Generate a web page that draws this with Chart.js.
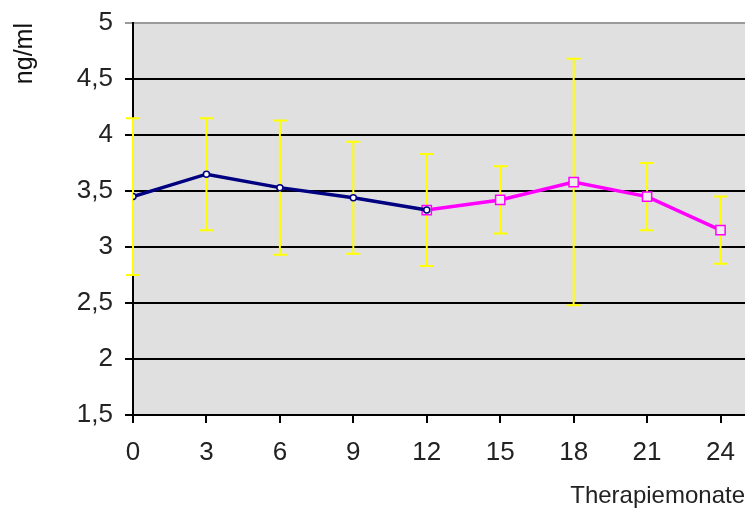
<!DOCTYPE html>
<html>
<head>
<meta charset="utf-8">
<script src="https://cdn.jsdelivr.net/npm/chart.js@4/dist/chart.umd.min.js"></script>
<style>
  html, body { margin: 0; padding: 0; background: #ffffff; }
  #wrap { width: 745px; height: 517px; }
</style>
</head>
<body>
<div id="wrap"><canvas id="chart" width="745" height="517"></canvas></div>
<script>
// Therapy months (x) and measured concentration in ng/ml
const months = [0, 3, 6, 9, 12, 15, 18, 21, 24];
const meanValues = [3.45, 3.65, 3.53, 3.44, 3.33, 3.42, 3.58, 3.45, 3.15];
const sdValues = [0.70, 0.50, 0.60, 0.50, 0.50, 0.30, 1.10, 0.30, 0.30];

// first phase (months 0–12) and second phase (months 12–24)
const phaseOneIdx = [0, 1, 2, 3, 4];
const phaseTwoIdx = [4, 5, 6, 7, 8];

const yTickValues = [1.5, 2, 2.5, 3, 3.5, 4, 4.5, 5];

const FONT = "'Liberation Sans', Arial, sans-serif";

const toPoints = idx => idx.map(i => ({ x: months[i], y: meanValues[i] }));
const germanNumber = v => String(v).replace('.', ',');

// grey plot background
const plotBackground = {
  id: 'plotBackground',
  beforeDraw(chart) {
    const { ctx, chartArea: a } = chart;
    ctx.save();
    ctx.fillStyle = '#e0e0e0';
    ctx.fillRect(a.left, a.top, a.right - a.left, a.bottom - a.top);
    ctx.restore();
  }
};

// yellow ±SD whiskers at every measurement
const errorBars = {
  id: 'errorBars',
  beforeDatasetsDraw(chart) {
    const { ctx, scales: { x, y } } = chart;
    ctx.save();
    ctx.strokeStyle = '#ffff00';
    ctx.lineWidth = 2;
    months.forEach((m, i) => {
      const px = x.getPixelForValue(m);
      const top = y.getPixelForValue(meanValues[i] + sdValues[i]);
      const bot = y.getPixelForValue(meanValues[i] - sdValues[i]);
      ctx.beginPath();
      ctx.moveTo(px, top); ctx.lineTo(px, bot);
      ctx.moveTo(px - 7, top); ctx.lineTo(px + 7, top);
      ctx.moveTo(px - 7, bot); ctx.lineTo(px + 7, bot);
      ctx.stroke();
    });
    ctx.restore();
  }
};

new Chart(document.getElementById('chart'), {
  type: 'line',
  data: {
    datasets: [
      {
        data: toPoints(phaseOneIdx),
        borderColor: '#000080',
        borderWidth: 3.5,
        pointStyle: 'circle',
        pointRadius: 3,
        pointBackgroundColor: '#ffffff',
        pointBorderColor: '#000080',
        pointBorderWidth: 1.5,
        tension: 0
      },
      {
        data: toPoints(phaseTwoIdx),
        borderColor: '#ff00ff',
        borderWidth: 3.5,
        pointStyle: 'rect',
        pointRadius: 6.5,
        pointBackgroundColor: '#eeeeee',
        pointBorderColor: '#ff00ff',
        pointBorderWidth: 1.5,
        tension: 0
      }
    ]
  },
  options: {
    responsive: false,
    animation: false,
    layout: { autoPadding: false, padding: { top: 23, right: 0, left: 0, bottom: 0 } },
    plugins: { legend: { display: false }, tooltip: { enabled: false } },
    scales: {
      x: {
        type: 'linear',
        min: 0,
        max: 25,
        afterBuildTicks: s => { s.ticks = months.map(v => ({ value: v })); },
        afterFit: s => { s.height = 102; s.paddingLeft = 0; s.paddingRight = 0; },
        border: { color: '#000000', width: 2 },
        grid: { drawOnChartArea: false, drawTicks: true, tickLength: 8, color: '#000000', lineWidth: 2 },
        ticks: { color: '#222222', font: { family: FONT, size: 26 }, padding: 14, maxRotation: 0,
                 callback: v => germanNumber(v) },
        title: {
          display: true, text: 'Therapiemonate', align: 'end', color: '#222222',
          font: { family: FONT, size: 24 }, padding: { top: 0, bottom: 6 }
        }
      },
      y: {
        min: 1.5,
        max: 5,
        afterBuildTicks: s => { s.ticks = yTickValues.map(v => ({ value: v })); },
        afterFit: s => { s.width = 133; s.paddingTop = 0; s.paddingBottom = 0; },
        border: { color: '#000000', width: 2 },
        grid: {
          drawTicks: true, tickLength: 8, lineWidth: 2,
          color: c => (c.tick && c.tick.value === 5 ? '#9a9a9a' : '#000000')
        },
        ticks: { color: '#222222', font: { family: FONT, size: 26 }, padding: 12,
                 callback: v => germanNumber(v) },
        title: {
          display: true, text: 'ng/ml', align: 'end', color: '#111111',
          font: { family: FONT, size: 25 }, padding: { top: 10, bottom: 0 }
        }
      }
    }
  },
  plugins: [plotBackground, errorBars]
});
</script>
</body>
</html>
